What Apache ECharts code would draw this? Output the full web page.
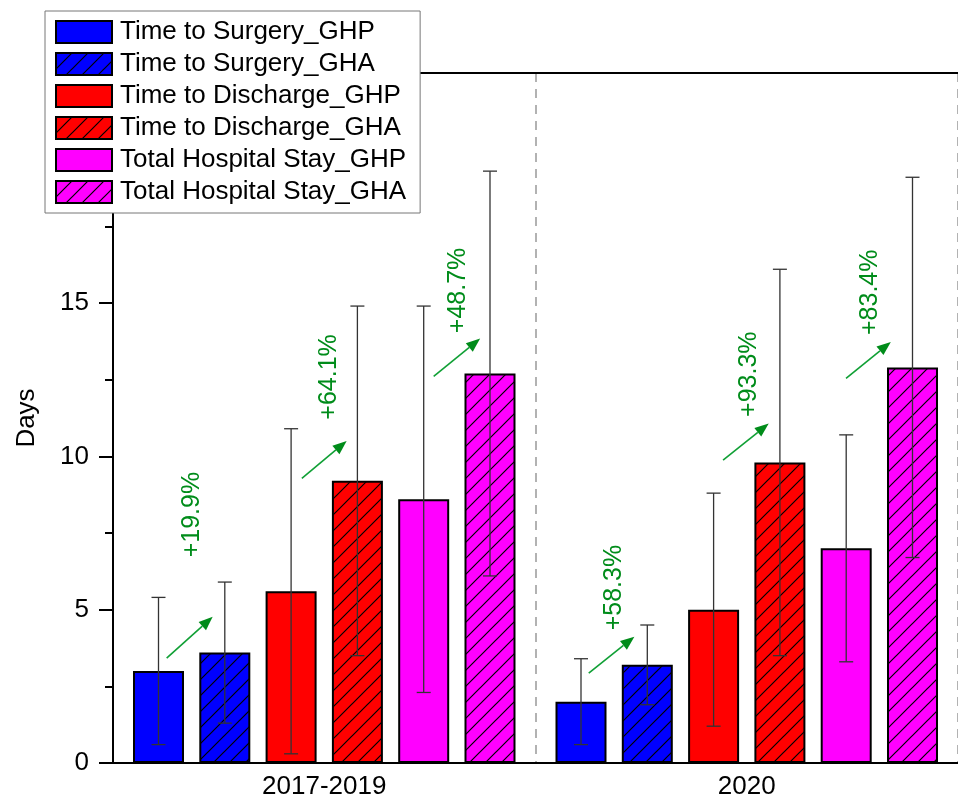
<!DOCTYPE html>
<html>
<head>
<meta charset="utf-8">
<script src="https://cdn.jsdelivr.net/npm/echarts@6/dist/echarts.min.js"></script>
<style>html,body{margin:0;padding:0;background:#fff}#c{width:958px;height:800px}</style>
</head>
<body>
<div id="c"></div>
<script>
// ---- data ----
const categories = ['2017-2019', '2020'];
const seriesNames = ['Time to Surgery_GHP', 'Time to Surgery_GHA', 'Time to Discharge_GHP', 'Time to Discharge_GHA', 'Total Hospital Stay_GHP', 'Total Hospital Stay_GHA'];
const surgeryGHP = [3.0, 2.0];
const surgeryGHA = [3.6, 3.2];
const dischargeGHP = [5.6, 5.0];
const dischargeGHA = [9.2, 9.8];
const stayGHP = [8.6, 7.0];
const stayGHA = [12.7, 12.9];
// error bar ranges [low, high] per category
const surgeryGHPErr = [[0.6, 5.4], [0.6, 3.4]];
const surgeryGHAErr = [[1.3, 5.9], [1.9, 4.5]];
const dischargeGHPErr = [[0.3, 10.9], [1.2, 8.8]];
const dischargeGHAErr = [[3.5, 14.9], [3.5, 16.1]];
const stayGHPErr = [[2.3, 14.9], [3.3, 10.7]];
const stayGHAErr = [[6.1, 19.3], [6.7, 19.1]];
// annotations in (category-band units, days)
const arrowFrom = [[-0.373, 3.42], [0.626, 2.93], [-0.053, 9.28], [0.944, 9.88], [0.259, 12.61], [1.235, 12.54]];
const arrowTo = [[-0.264, 4.77], [0.734, 4.12], [0.053, 10.50], [1.052, 11.07], [0.369, 13.84], [1.341, 13.73]];
const labelPos = [[-0.313, 8.10], [0.687, 5.72], [0.011, 12.59], [1.005, 12.68], [0.317, 15.41], [1.291, 15.35]];
const labelText = ['+19.9%', '+58.3%', '+64.1%', '+93.3%', '+48.7%', '+83.4%'];
const yTicks = [0, 5, 10, 15, 20];

// ---- styles ----
const FONT = 'Liberation Sans, Arial, sans-serif';
const BAR_W = 51, BAR_GAP = 0.3;
const GREEN = '#008C1A';
const HATCH = 16;

function hatch(color) {
  const n = HATCH;
  const c = document.createElement('canvas');
  c.width = n; c.height = n;
  const g = c.getContext('2d');
  g.fillStyle = color; g.fillRect(0, 0, n, n);
  g.strokeStyle = '#000'; g.lineWidth = 1.2;
  g.beginPath();
  g.moveTo(0, n); g.lineTo(n, 0);
  g.moveTo(-n / 2, n / 2); g.lineTo(n / 2, -n / 2);
  g.moveTo(n / 2, n * 1.5); g.lineTo(n * 1.5, n / 2);
  g.stroke();
  return { image: c, repeat: 'repeat' };
}
const fills = ['#0000FF', hatch('#0000FF'), '#FF0000', hatch('#FF0000'), '#FF00FF', hatch('#FF00FF')];
const values = [surgeryGHP, surgeryGHA, dischargeGHP, dischargeGHA, stayGHP, stayGHA];
const errs = [surgeryGHPErr, surgeryGHAErr, dischargeGHPErr, dischargeGHAErr, stayGHPErr, stayGHAErr];

const errData = [];
errs.forEach((e, s) => e.forEach((r, ci) => errData.push([ci, r[0], r[1], s])));
const annData = arrowFrom.map((a, i) => [a[0], a[1], arrowTo[i][0], arrowTo[i][1], labelPos[i][0], labelPos[i][1], i]);

const chart = echarts.init(document.getElementById('c'), null, { renderer: 'canvas' });

const barSeries = values.map((v, s) => ({
  name: seriesNames[s],
  type: 'bar',
  data: v,
  barWidth: BAR_W,
  barGap: (BAR_GAP * 100) + '%',
  itemStyle: { color: fills[s], borderColor: '#000', borderWidth: 2 },
  emphasis: { disabled: true },
  z: 2
}));

const option = {
  animation: false,
  backgroundColor: '#fff',
  textStyle: { fontFamily: FONT },
  grid: { left: 113, right: -3, top: 73, bottom: 37, containLabel: false },
  legend: {
    orient: 'vertical', left: 45, top: 11,
    itemWidth: 56, itemHeight: 22, itemGap: 6,
    padding: [8, 14, 8, 10],
    backgroundColor: '#fff', borderColor: '#777', borderWidth: 1,
    icon: 'rect',
    textStyle: { fontSize: 26, color: '#000', fontFamily: FONT, padding: [0, 0, 0, 3] },
    data: seriesNames,
    selectedMode: false,
    z: 20
  },
  xAxis: [
    {
      type: 'category', data: categories, position: 'bottom',
      axisLine: { onZero: false, lineStyle: { color: '#000', width: 2 } },
      axisTick: { show: false },
      axisLabel: { fontSize: 26, color: '#000', margin: 11, fontFamily: FONT },
      splitLine: { show: true, lineStyle: { color: '#999', width: 1.5, type: [9, 7] } }
    },
    {
      type: 'value', min: -0.5, max: 1.5, position: 'top',
      axisLine: { show: true, onZero: false, lineStyle: { color: '#000', width: 2 } },
      axisTick: { show: false }, axisLabel: { show: false }, splitLine: { show: false }
    }
  ],
  yAxis: {
    type: 'value', min: 0, max: 22.5, interval: 5, position: 'left',
    name: 'Days', nameLocation: 'middle', nameGap: 73, nameRotate: 90,
    nameTextStyle: { fontSize: 26, color: '#000', fontFamily: FONT },
    axisLine: { show: true, onZero: false, lineStyle: { color: '#000', width: 2 } },
    axisTick: { show: true, length: 14, lineStyle: { color: '#000', width: 2 } },
    minorTick: { show: true, splitNumber: 2, length: 8, lineStyle: { color: '#000', width: 2 } },
    axisLabel: {
      fontSize: 26, color: '#000', margin: 24, fontFamily: FONT,
      formatter: v => (yTicks.indexOf(v) >= 0 ? String(v) : '')
    },
    splitLine: { show: false }
  },
  series: barSeries.concat([
    {
      type: 'custom', name: 'err', xAxisIndex: 0, yAxisIndex: 0, z: 5,
      data: errData,
      encode: { x: 0, y: [1, 2] },
      renderItem: function (params, api) {
        const ci = api.value(0), s = api.value(3);
        const base = api.coord([ci, api.value(1)]);
        const top = api.coord([ci, api.value(2)]);
        const x = base[0] + (s - 2.5) * BAR_W * (1 + BAR_GAP);
        const cap = 7;
        const st = { stroke: '#333', lineWidth: 1.3 };
        return {
          type: 'group', children: [
            { type: 'line', shape: { x1: x, y1: base[1], x2: x, y2: top[1] }, style: st },
            { type: 'line', shape: { x1: x - cap, y1: base[1], x2: x + cap, y2: base[1] }, style: st },
            { type: 'line', shape: { x1: x - cap, y1: top[1], x2: x + cap, y2: top[1] }, style: st }
          ]
        };
      }
    },
    {
      type: 'custom', name: 'ann', xAxisIndex: 1, yAxisIndex: 0, z: 6,
      data: annData,
      encode: { x: [0, 2, 4], y: [1, 3, 5] },
      renderItem: function (params, api) {
        const p0 = api.coord([api.value(0), api.value(1)]);
        const p1 = api.coord([api.value(2), api.value(3)]);
        const pl = api.coord([api.value(4), api.value(5)]);
        const i = api.value(6);
        const dx = p1[0] - p0[0], dy = p1[1] - p0[1];
        const L = Math.sqrt(dx * dx + dy * dy);
        const ux = dx / L, uy = dy / L;
        const hl = 14, hw = 5.5;
        const bx = p1[0] - ux * hl, by = p1[1] - uy * hl;
        return {
          type: 'group', children: [
            { type: 'line', shape: { x1: p0[0], y1: p0[1], x2: bx, y2: by }, style: { stroke: '#10A035', lineWidth: 1.6 } },
            { type: 'polygon', shape: { points: [[p1[0], p1[1]], [bx - uy * hw, by + ux * hw], [bx + uy * hw, by - ux * hw]] }, style: { fill: GREEN } },
            {
              type: 'text', x: pl[0], y: pl[1], rotation: Math.PI / 2,
              style: { text: labelText[i], fill: GREEN, fontSize: 25, fontFamily: FONT, align: 'center', verticalAlign: 'middle' }
            }
          ]
        };
      }
    }
  ])
};
chart.setOption(option);
</script>
</body>
</html>
